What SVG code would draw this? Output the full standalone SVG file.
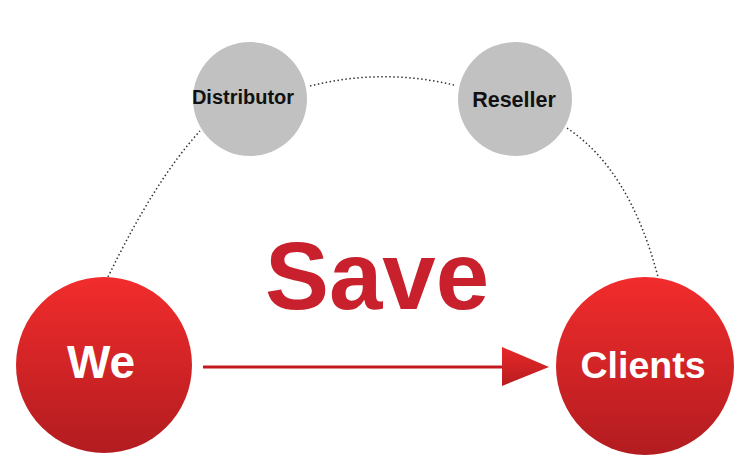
<svg xmlns="http://www.w3.org/2000/svg" width="750" height="471" viewBox="0 0 750 471">
<defs>
<linearGradient id="red" x1="0" y1="0" x2="0" y2="1">
<stop offset="0" stop-color="#f22c2c"/>
<stop offset="1" stop-color="#b21c20"/>
</linearGradient>
<linearGradient id="redArrow" x1="0" y1="0" x2="0" y2="1">
<stop offset="0" stop-color="#e82828"/>
<stop offset="1" stop-color="#b81d20"/>
</linearGradient>
<style>
.dot{fill:none;stroke:#333;stroke-width:1.5;stroke-dasharray:1.5 2.5}
.big{fill:url(#red)}
.small{fill:#c1c1c1}
.wt{font-family:"Liberation Sans",Arial,sans-serif;font-weight:bold;fill:#fff;text-anchor:middle}
.bt{font-family:"Liberation Sans",Arial,sans-serif;font-weight:bold;fill:#111;text-anchor:middle}
</style>
</defs>
<rect width="750" height="471" fill="#fff"/>
<g id="connectors">
<path class="dot" d="M108,277 Q155,180 200,131"/>
<path class="dot" d="M310,86 Q382,68 454,85"/>
<path class="dot" d="M567,128 Q630,170 658,277"/>
<line x1="203" y1="367" x2="505" y2="367" stroke="#c4191f" stroke-width="3"/>
<polygon points="502,347 549,367 502,386" fill="url(#redArrow)"/>
</g>
<g id="save">
<text x="377" y="309" font-family="'Liberation Sans',Arial,sans-serif" font-weight="bold" font-size="96" fill="#c8202c" text-anchor="middle">Save</text>
</g>
<g id="we">
<circle class="big" cx="104" cy="365" r="88"/>
<text class="wt" x="101" y="378" font-size="46">We</text>
</g>
<g id="clients">
<circle class="big" cx="645" cy="366" r="89"/>
<text class="wt" x="643" y="378" font-size="37.5">Clients</text>
</g>
<g id="distributor">
<circle class="small" cx="250" cy="99" r="57"/>
<text class="bt" x="243" y="104" font-size="20">Distributor</text>
</g>
<g id="reseller">
<circle class="small" cx="515" cy="99" r="57"/>
<text class="bt" x="514" y="107" font-size="21.5">Reseller</text>
</g>
</svg>
